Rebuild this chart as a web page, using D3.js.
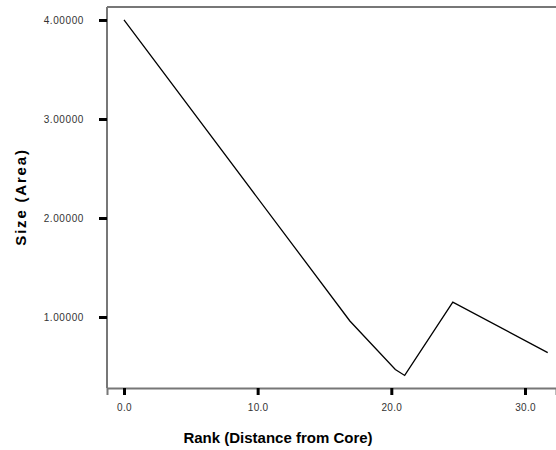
<!DOCTYPE html>
<html>
<head>
<meta charset="utf-8">
<script src="https://cdn.jsdelivr.net/npm/d3@7"></script>
<style>
  html, body { margin: 0; padding: 0; background: #fff; }
  svg { display: block; }
</style>
</head>
<body>
<svg id="chart" width="556" height="450"></svg>
<script>
const rank = [0, 16.9, 20.3, 21.0, 24.6, 31.7];
const size = [4.0, 0.96, 0.47, 0.41, 1.15, 0.64];
const xTicks = [0, 10, 20, 30];
const yTicks = [1, 2, 3, 4];

(function () {
const svg = d3.select("#chart");
const pLeft = 107, pTop = 7, pRight = 556, pBottom = 388;
const font = "Liberation Sans, Arial, sans-serif";

const x = d3.scaleLinear().domain([-1.27, 32.32]).range([pLeft, pRight]);
const y = d3.scaleLinear().domain([0.283, 4.131]).range([pBottom, pTop]);

// frame: top and left lines
svg.append("line").attr("x1", pLeft).attr("x2", pRight).attr("y1", pTop).attr("y2", pTop)
  .attr("stroke", "#777").attr("stroke-width", 2);
svg.append("line").attr("x1", pLeft).attr("x2", pLeft).attr("y1", pTop).attr("y2", pBottom)
  .attr("stroke", "#777").attr("stroke-width", 2);

// x axis
const xAxis = svg.append("g").attr("transform", `translate(0,${pBottom})`)
  .call(d3.axisBottom(x).tickValues(xTicks).tickFormat(d3.format(".1f")).tickSize(7).tickPadding(9));
xAxis.select(".domain").attr("stroke", "#777").attr("stroke-width", 2);
xAxis.selectAll(".tick line").attr("stroke", "#000").attr("stroke-width", 3);
xAxis.selectAll("text").attr("font-family", font).attr("font-size", 10)
  .attr("letter-spacing", 0.3).attr("fill", "#333");

// y axis
const yAxis = svg.append("g").attr("transform", `translate(${pLeft},0)`)
  .call(d3.axisLeft(y).tickValues(yTicks).tickFormat(d3.format(".5f")).tickSize(8).tickPadding(15));
yAxis.select(".domain").remove();
yAxis.selectAll(".tick line").attr("stroke", "#000").attr("stroke-width", 3);
yAxis.selectAll("text").attr("font-family", font).attr("font-size", 10)
  .attr("letter-spacing", 0.6).attr("fill", "#333");

// line
const line = d3.line().x((d, i) => x(rank[i])).y((d, i) => y(size[i]));
svg.append("path").datum(rank).attr("d", line)
  .attr("fill", "none").attr("stroke", "#000").attr("stroke-width", 1.3);

// titles
svg.append("text").attr("x", 278).attr("y", 443).attr("text-anchor", "middle")
  .attr("font-family", font).attr("font-weight", "bold").attr("font-size", 15)
  .text("Rank (Distance from Core)");
svg.append("text").attr("transform", "translate(26,197) rotate(-90)").attr("text-anchor", "middle")
  .attr("font-family", font).attr("font-weight", "bold").attr("font-size", 15)
  .attr("letter-spacing", 1.8)
  .text("Size (Area)");
})();
</script>
</body>
</html>
